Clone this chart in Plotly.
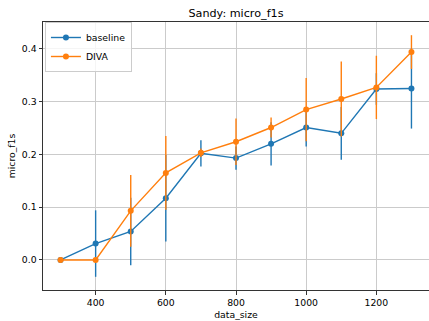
import plotly.graph_objects as go

data_size = [300, 400, 500, 600, 700, 800, 900, 1000, 1100, 1200, 1300]
baseline = [0.0, 0.031, 0.054, 0.117, 0.202, 0.193, 0.220, 0.251, 0.240, 0.324, 0.325]
baseline_err = [0.0, 0.063, 0.064, 0.082, 0.025, 0.022, 0.041, 0.036, 0.050, 0.03, 0.076]
diva = [0.0, 0.0, 0.093, 0.165, 0.203, 0.224, 0.251, 0.285, 0.305, 0.327, 0.394]
diva_err = [0.0, 0.0, 0.068, 0.070, 0.008, 0.044, 0.019, 0.060, 0.071, 0.060, 0.032]

BLUE = "#1f77b4"
ORANGE = "#ff7f0e"
FONT = "DejaVu Sans"
GRID = "#cbcbcb"
SPINE = "#333333"

fig = go.Figure()
for name, y, e, c in [("baseline", baseline, baseline_err, BLUE),
                      ("DIVA", diva, diva_err, ORANGE)]:
    fig.add_trace(go.Scatter(
        x=data_size, y=y, name=name, mode="lines+markers",
        line=dict(color=c, width=1.4),
        marker=dict(color=c, size=6),
        error_y=dict(type="data", array=e, visible=True, color=c,
                     thickness=1.4, width=0),
    ))

fig.update_layout(
    width=429, height=321,
    margin=dict(l=43, r=0, t=22, b=31),
    paper_bgcolor="white", plot_bgcolor="white",
    font=dict(family=FONT, size=9.3, color="black"),
    title=dict(text="Sandy: micro_f1s", x=0.5, xref="paper",
               y=(321 - 13) / 321, yref="container", yanchor="middle",
               xanchor="center", font=dict(size=11.2, family=FONT)),
    showlegend=True,
    legend=dict(x=0.005, y=1.0, xanchor="left", yanchor="top",
                bgcolor="rgba(255,255,255,0.8)", bordercolor="#cccccc",
                borderwidth=1, font=dict(size=9.3, family=FONT),
                tracegroupgap=0, itemwidth=30),
    xaxis=dict(range=[250, 1350], tickvals=[400, 600, 800, 1000, 1200],
               showgrid=True, gridcolor=GRID, gridwidth=1,
               showline=True, linecolor=SPINE, linewidth=1, mirror=True,
               ticks="outside", ticklen=3.5, tickwidth=0.8, tickcolor=SPINE,
               zeroline=False,
               title=dict(text="data_size", standoff=4, font=dict(size=9.3))),
    yaxis=dict(range=[-0.057, 0.451], tickvals=[0.0, 0.1, 0.2, 0.3, 0.4],
               tickformat=".1f",
               showgrid=True, gridcolor=GRID, gridwidth=1,
               showline=True, linecolor=SPINE, linewidth=1, mirror=True,
               ticks="outside", ticklen=3.5, tickwidth=0.8, tickcolor=SPINE,
               zeroline=False,
               title=dict(text="micro_f1s", standoff=4, font=dict(size=9.3))),
)

fig.write_html("out.html")
